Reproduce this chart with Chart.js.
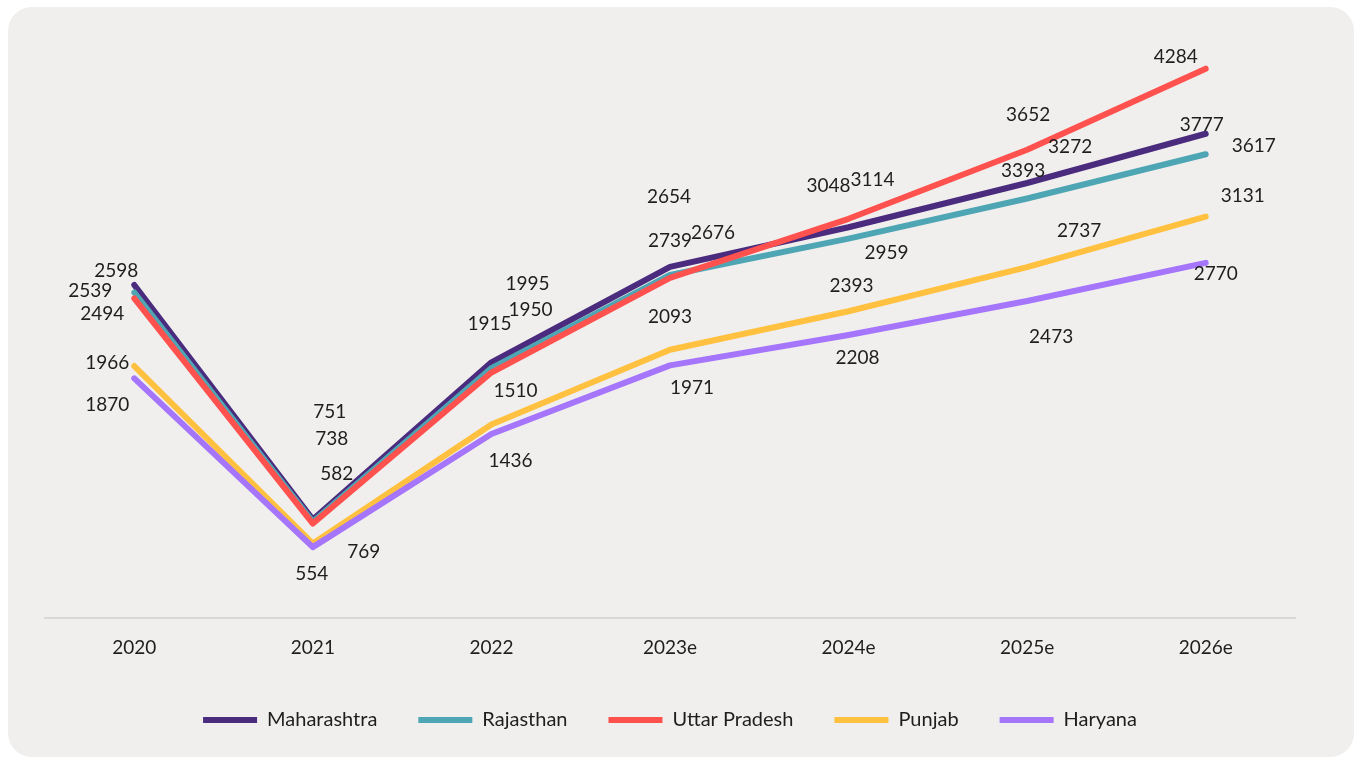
<!DOCTYPE html>
<html>
<head>
<meta charset="utf-8">
<script src="https://cdn.jsdelivr.net/npm/chart.js@4.4.1/dist/chart.umd.min.js"></script>
<style>
	html, body { margin: 0; padding: 0; background: #ffffff; }
	.card {
		position: absolute; left: 8px; top: 7px; width: 1346px; height: 750px;
		background: #f0efee; border-radius: 24px;
	}
	#wrap { position: absolute; left: 0; top: 0; width: 1356px; height: 758px; }
</style>
</head>
<body>
<div class="card"></div>
<div id="wrap"><canvas id="states"></canvas></div>
<script>
// years on the x axis
const years = ["2020", "2021", "2022", "2023e", "2024e", "2025e", "2026e"]

// values per state
const maharashtra = [2598, 769, 1995, 2739, 3048, 3393, 3777]
const rajasthan = [2539, 751, 1950, 2676, 2959, 3272, 3617]
const uttarPradesh = [2494, 738, 1915, 2654, 3114, 3652, 4284]
const punjab = [1966, 582, 1510, 2093, 2393, 2737, 3131]
const haryana = [1870, 554, 1436, 1971, 2208, 2473, 2770]

// where each value label sits, relative to its point (px)
const labelShift = [
	[[-18, -14], [51, 32], [36, -78], [0, -26], [-20, -41], [-4, -12], [-4, -9]],
	[[-44, -2], [17, -110], [39, -58], [43, -42], [38, 14], [43, -52], [48, -8]],
	[[-32, 16], [19, -85], [-2, -49], [-1, -81], [24, -39], [1, -35], [-30, -12]],
	[[-27, -3], [24, -70], [24, -34], [0, -33], [3, -25], [52, -36], [37, -21]],
	[[-27, 27], [-1, 27], [19, 27], [22, 22], [9, 23], [24, 36], [10, 11]]
]

const FONT = "Lato, 'Noto Sans', sans-serif"

function makeSet(label, data, color, order) {
	return {
		label: label,
		data: data,
		borderColor: color,
		backgroundColor: color,
		borderWidth: 6,
		borderCapStyle: "round",
		borderJoinStyle: "round",
		pointRadius: 0,
		pointHoverRadius: 0,
		tension: 0,
		order: order
	}
}

// value labels next to each point
const valueLabels = {
	id: "valueLabels",
	afterDatasetsDraw(chart) {
		const ctx = chart.ctx
		ctx.save()
		ctx.font = "19px " + FONT
		ctx.fillStyle = "#1e1e1e"
		ctx.textAlign = "center"
		ctx.textBaseline = "middle"
		chart.data.datasets.forEach((ds, i) => {
			const meta = chart.getDatasetMeta(i)
			meta.data.forEach((pt, j) => {
				const s = labelShift[i][j]
				ctx.fillText(String(ds.data[j]), pt.x + s[0], pt.y + s[1])
			})
		})
		ctx.restore()
	}
}

const ctx = document.getElementById("states").getContext("2d")
new Chart(ctx, {
	type: "line",
	data: {
		labels: years,
		datasets: [
			makeSet("Maharashtra", maharashtra, "#4b2b7d", 5),
			makeSet("Rajasthan", rajasthan, "#4ea5b3", 4),
			makeSet("Uttar Pradesh", uttarPradesh, "#ff524f", 3),
			makeSet("Punjab", punjab, "#ffc13f", 2),
			makeSet("Haryana", haryana, "#a575fc", 1)
		]
	},
	options: {
		responsive: true,
		maintainAspectRatio: false,
		animation: false,
		layout: {
			padding: { left: 45, right: 61, top: 41, bottom: 18 }
		},
		scales: {
			x: {
				offset: true,
				grid: { display: false },
				border: { display: true, color: "#d9d8d6", width: 2 },
				ticks: {
					color: "#1e1e1e",
					padding: 10,
					font: { family: FONT, size: 19 }
				}
			},
			y: {
				display: false,
				min: 0,
				max: 4500
			}
		},
		plugins: {
			tooltip: { enabled: false },
			legend: {
				position: "bottom",
				labels: {
					usePointStyle: true,
					pointStyle: "line",
					pointStyleWidth: 54,
					color: "#1e1e1e",
					padding: 41,
					font: { family: FONT, size: 20 },
					sort: (a, b) => a.datasetIndex - b.datasetIndex
				}
			}
		}
	},
	plugins: [valueLabels]
})
</script>
</body>
</html>
